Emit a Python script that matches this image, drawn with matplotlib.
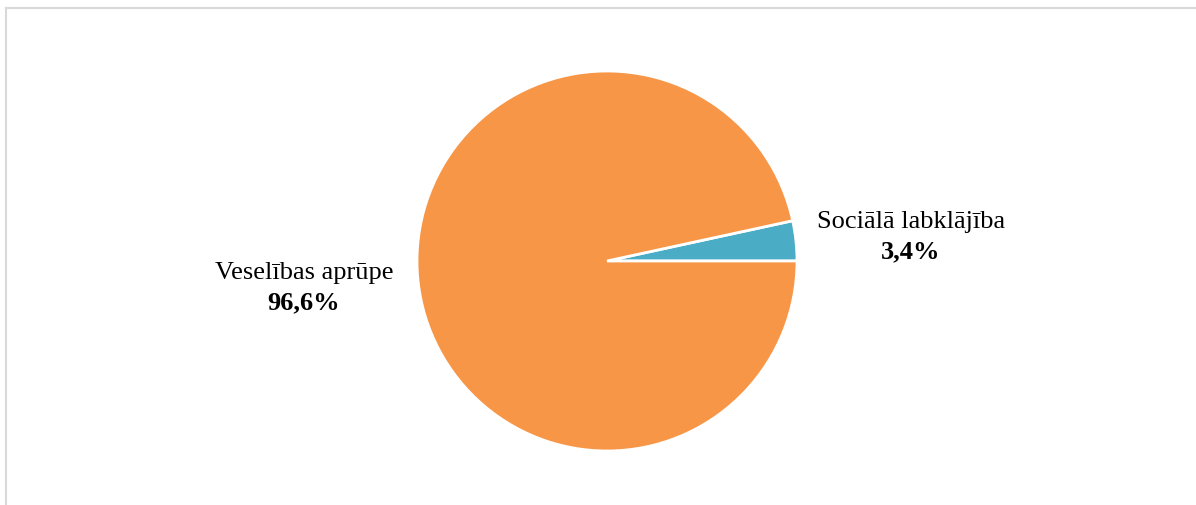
#!/usr/bin/env python
"""pie of spending split between health care and social welfare"""
import numpy as np
from matplotlib import pyplot as plt
from matplotlib.lines import Line2D

categories = ['Sociālā labklājība', 'Veselības aprūpe']
shares = [3.4, 96.6]
pct_labels = ['3,4%', '96,6%']
colors = ['#4BACC6', '#F79646']

# label centres (name line) in pie data units
label_pos = [(1.60, 0.205), (-1.595, -0.063)]
line_gap = 0.158

plt.rcParams['font.family'] = ['Liberation Serif', 'DejaVu Serif']

W, H = 1196, 505
fig = plt.figure(figsize=(W / 100, H / 100), dpi=100)
fig.patch.set_facecolor('white')

# pie centre (607, 261) px, radius 190 px
cx, cy, r = 607, 261, 190
ax = fig.add_axes([(cx - r) / W, (H - cy - r) / H, 2 * r / W, 2 * r / H])
ax.pie(shares, colors=colors, startangle=0, counterclock=True,
       wedgeprops=dict(edgecolor='white', linewidth=2))
ax.set_xlim(-1, 1)
ax.set_ylim(-1, 1)
ax.set_aspect('equal')
ax.axis('off')

for name, pct, (x, y) in zip(categories, pct_labels, label_pos):
    ax.text(x, y, name, ha='center', va='center', fontsize=19, clip_on=False)
    ax.text(x, y - line_gap, pct, ha='center', va='center', fontsize=19,
            fontweight='bold', clip_on=False)

# chart area frame (top and left edges only visible)
frame = '#D9D9D9'
fig.add_artist(Line2D([6 / W, 1], [1 - 8 / H, 1 - 8 / H], color=frame, lw=1.5,
                      transform=fig.transFigure))
fig.add_artist(Line2D([6 / W, 6 / W], [0, 1 - 8 / H], color=frame, lw=1.5,
                      transform=fig.transFigure))

fig.savefig('out.png', dpi=100)
